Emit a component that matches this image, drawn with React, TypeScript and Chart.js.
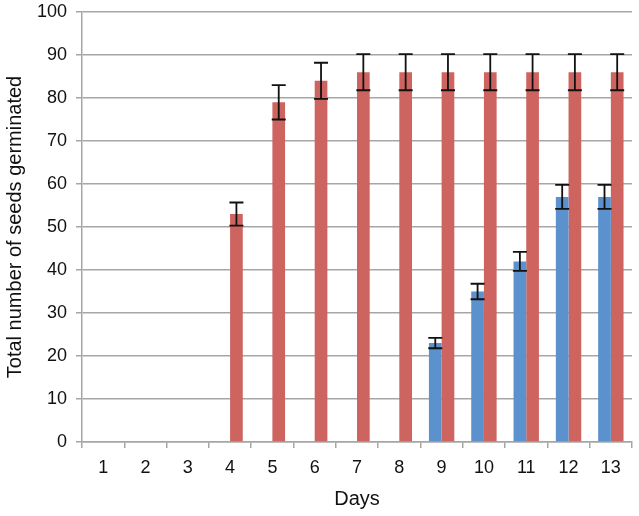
import React, { useEffect, useRef } from "react";
import { Chart, registerables } from "chart.js";

Chart.register(...registerables);

const days = ["1", "2", "3", "4", "5", "6", "7", "8", "9", "10", "11", "12", "13"];
const blueValues = [null, null, null, null, null, null, null, null, 23, 35, 42, 57, 57];
const blueErrors = [null, null, null, null, null, null, null, null, 1.2, 1.8, 2.2, 2.8, 2.8];
const redValues = [null, null, null, 53, 79, 84, 86, 86, 86, 86, 86, 86, 86];
const redErrors = [null, null, null, 2.7, 4, 4.2, 4.2, 4.2, 4.2, 4.2, 4.2, 4.2, 4.2];
const yTitle = "Total number of seeds germinated";
const xTitle = "Days";

const FONT = "'Liberation Sans', Arial, Helvetica, sans-serif";

const errorBarPlugin = {
  id: "errorBars",
  afterDatasetsDraw(chart: any) {
    const ctx = chart.ctx;
    const yScale = chart.scales.y;
    chart.data.datasets.forEach((ds: any, di: number) => {
      const meta = chart.getDatasetMeta(di);
      const errs = ds.errors as (number | null)[];
      meta.data.forEach((el: any, i: number) => {
        const v = ds.data[i];
        const e = errs[i];
        if (v == null || e == null) return;
        const x = el.x;
        const yTop = yScale.getPixelForValue(v + e);
        const yBot = yScale.getPixelForValue(v - e);
        const half = 7;
        ctx.save();
        ctx.strokeStyle = "#111";
        ctx.lineWidth = 1.8;
        ctx.beginPath();
        ctx.moveTo(x, yTop);
        ctx.lineTo(x, yBot);
        ctx.moveTo(x - half, yTop);
        ctx.lineTo(x + half, yTop);
        ctx.moveTo(x - half, yBot);
        ctx.lineTo(x + half, yBot);
        ctx.stroke();
        ctx.restore();
      });
    });
  },
};

export default function App() {
  const ref = useRef<HTMLCanvasElement>(null);
  useEffect(() => {
    if (!ref.current) return;
    const chart = new Chart(ref.current, {
      type: "bar",
      data: {
        labels: days,
        datasets: [
          {
            label: "A",
            data: blueValues as any,
            errors: blueErrors,
            backgroundColor: "#5b91cc",
            categoryPercentage: 0.6,
            barPercentage: 1,
          } as any,
          {
            label: "B",
            data: redValues as any,
            errors: redErrors,
            backgroundColor: "#ce6460",
            categoryPercentage: 0.6,
            barPercentage: 1,
          } as any,
        ],
      },
      options: {
        animation: false,
        responsive: false,
        maintainAspectRatio: false,
        layout: { padding: { left: 0, right: 7, top: 12, bottom: 0 } },
        plugins: {
          legend: { display: false },
          tooltip: { enabled: false },
        },
        scales: {
          x: {
            grid: {
              offset: true,
              drawOnChartArea: false,
              drawTicks: true,
              tickLength: 6,
              color: "#a6a6a6",
              lineWidth: 1.5,
            },
            border: { color: "#a6a6a6", width: 1.5 },
            ticks: {
              color: "#111",
              font: { family: FONT, size: 18 },
              padding: 9,
              maxRotation: 0,
            },
            title: {
              display: true,
              text: xTitle,
              color: "#111",
              font: { family: FONT, size: 20 },
              padding: { top: 4, bottom: 5 },
            },
            afterFit(scale: any) {
              scale.height = 74;
              scale.paddingLeft = 0;
              scale.paddingRight = 0;
            },
          },
          y: {
            min: 0,
            max: 100,
            ticks: {
              stepSize: 10,
              color: "#111",
              font: { family: FONT, size: 18 },
              padding: 9,
            },
            grid: {
              color: "#a6a6a6",
              lineWidth: 1.5,
              tickLength: 6,
            },
            border: { color: "#a6a6a6", width: 1.5 },
            title: {
              display: true,
              text: yTitle,
              color: "#111",
              font: { family: FONT, size: 20 },
              padding: { top: 3, bottom: 0 },
            },
            afterFit(scale: any) {
              scale.width = 82;
              scale.paddingTop = 0;
              scale.paddingBottom = 0;
            },
          },
        },
      },
      plugins: [errorBarPlugin],
    } as any);
    return () => chart.destroy();
  }, []);
  return (
    <div style={{ position: "fixed", left: 0, top: 0, width: 639, height: 516, background: "#fff" }}>
      <canvas ref={ref} width={639} height={516} style={{ width: 639, height: 516 }} />
    </div>
  );
}
